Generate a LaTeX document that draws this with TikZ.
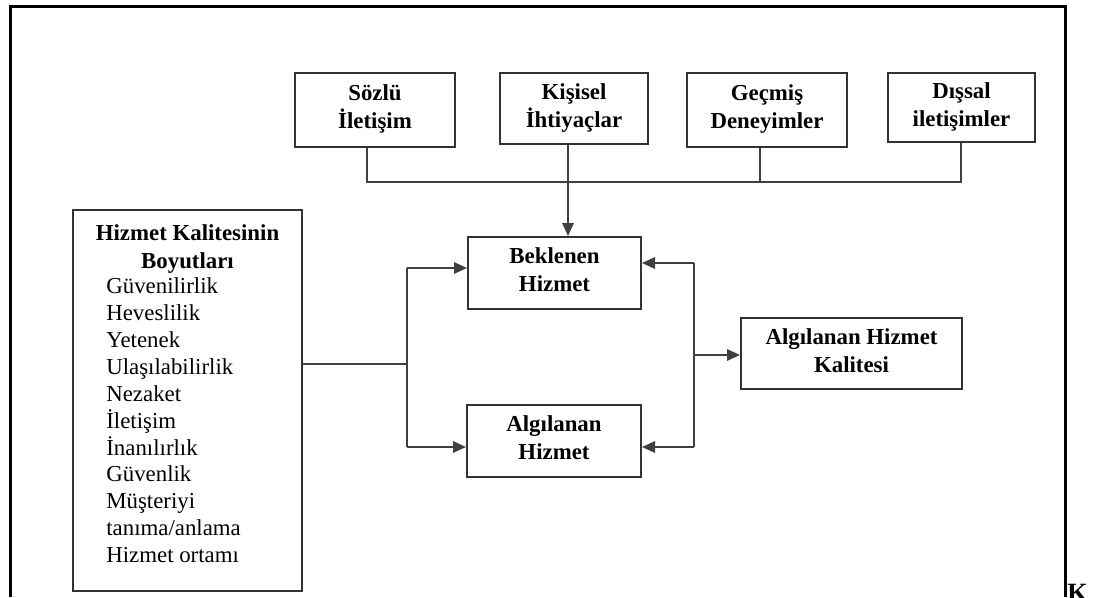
\documentclass[tikz,border=0pt]{standalone}
\usepackage{fontspec}
\setmainfont{Liberation Serif}
\usetikzlibrary{arrows.meta}

\newcommand\kutuust{\rule{0pt}{11.5pt}}
\newcommand\kutualt{\rule[-3.5pt]{0pt}{3.5pt}}

\begin{document}
\begin{tikzpicture}[x=0.2mm, y=-0.2mm, >={Triangle[length=2.6mm,width=2.3mm]},
    kutu/.style={draw=black!80, line width=0.4mm, align=center, inner sep=0pt,
                 font=\fontsize{13}{15.9}\selectfont\bfseries,
                 execute at begin node=\kutuust, execute at end node=\kutualt},
    hat/.style={draw=black!75, line width=0.35mm}]
    \useasboundingbox (0,0) rectangle (1096,597);

    % Outer frame, open at the bottom
    \draw[line width=0.6mm] (10,597) -- (10,7) -- (1065,7) -- (1065,597);
    \node[anchor=base west, inner sep=0pt, font=\fontsize{15}{18}\selectfont\bfseries] (harf) at (1067,601) {K};

    % Top row
    \node[kutu, minimum width=32mm, minimum height=14.8mm] (sozlu) at (375,110) {Sözlü\\İletişim};
    \node[kutu, minimum width=29.6mm, minimum height=14.2mm] (kisisel) at (574,108.5) {Kişisel\\İhtiyaçlar};
    \node[kutu, minimum width=32mm, minimum height=14.8mm] (gecmis) at (767,110) {Geçmiş\\Deneyimler};
    \node[kutu, minimum width=29.4mm, minimum height=13.8mm] (dissal) at (961.5,107.5) {Dışsal\\iletişimler};

    % Middle boxes
    \node[kutu, minimum width=34.6mm, minimum height=14.4mm] (beklenen) at (554.5,273) {Beklenen\\Hizmet};
    \node[kutu, minimum width=34.8mm, minimum height=14.4mm] (algilanan) at (554,441) {Algılanan\\Hizmet};
    \node[kutu, minimum width=44.2mm, minimum height=14.2mm] (kalite) at (851.5,353.5) {Algılanan Hizmet\\Kalitesi};

    % Dimensions box
    \node[draw=black!80, line width=0.4mm, minimum width=45.8mm, minimum height=76.2mm] (boyut) at (187.5,400.5) {};
    \node[anchor=north, align=center, inner sep=0pt, font=\fontsize{13}{15.9}\selectfont\bfseries]
        (baslik) at (187.5,224) {Hizmet Kalitesinin\\Boyutları};
    \node[anchor=north west, align=left, inner sep=0pt, font=\fontsize{13}{15.3}\selectfont]
        (liste) at (106,277.5) {Güvenilirlik\\Heveslilik\\Yetenek\\Ulaşılabilirlik\\Nezaket\\İletişim\\İnanılırlık\\Güvenlik\\Müşteriyi\\tanıma/anlama\\Hizmet ortamı};

    % Bus under the top row
    \coordinate (bus1) at (367,182);
    \coordinate (bus2) at (568,182);
    \coordinate (bus3) at (760,182);
    \coordinate (bus4) at (961,182);
    \draw[hat] (sozlu.south -| bus1) -- (bus1) -- (bus4) -- (dissal.south -| bus4);
    \draw[hat] (kisisel.south -| bus2) -- (bus2);
    \draw[hat] (gecmis.south -| bus3) -- (bus3);
    \draw[hat, ->] (bus2) -- (beklenen.north -| bus2);

    % Left fork
    \coordinate (solust) at (407,268);
    \coordinate (solorta) at (407,364);
    \coordinate (solalt) at (407,447);
    \draw[hat] (boyut.east |- solorta) -- (solorta);
    \draw[hat] (solust) -- (solalt);
    \draw[hat, ->] (solust) -- (beklenen.west |- solust);
    \draw[hat, ->] (solalt) -- (algilanan.west |- solalt);

    % Right fork
    \coordinate (sagust) at (694,263);
    \coordinate (sagorta) at (694,355);
    \coordinate (sagalt) at (694,447);
    \draw[hat] (sagust) -- (sagalt);
    \draw[hat, ->] (sagust) -- (beklenen.east |- sagust);
    \draw[hat, ->] (sagalt) -- (algilanan.east |- sagalt);
    \draw[hat, ->] (sagorta) -- (kalite.west |- sagorta);
\end{tikzpicture}
\end{document}
